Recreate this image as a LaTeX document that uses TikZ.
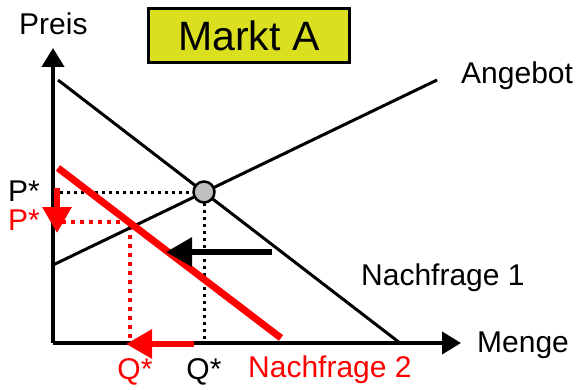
\documentclass[tikz,border=0pt]{standalone}
\usepackage{fontspec}
\setmainfont{Liberation Sans}
\usetikzlibrary{arrows.meta}
\definecolor{boxyellow}{RGB}{218,223,31}
\definecolor{myred}{RGB}{255,0,0}
\begin{document}
\begin{tikzpicture}[x=1pt,y=-1pt,
  lbl/.style={font=\fontsize{30}{30}\selectfont, inner sep=0pt},
  curve/.style={line width=3pt, black},
  axis/.style={line width=4pt, -{Triangle[length=19pt,width=22pt]}},
  dotline/.style={line width=3pt, dash pattern=on 3pt off 4pt},
  bigarrow/.style={line width=6pt, -{Triangle[length=26pt,width=28pt]}}]
\useasboundingbox (0,0) rectangle (585,390);
% coordinates
\coordinate (O) at (53,343);
\coordinate (ytop) at (53,48);
\coordinate (xend) at (461,343);
\coordinate (s1) at (53,265);
\coordinate (s2) at (437,80);
\coordinate (d1a) at (58,80);
\coordinate (d1b) at (400,343);
\coordinate (d2a) at (58,168);
\coordinate (d2b) at (281,338);
\coordinate (pst) at (60,192);
\coordinate (qst) at (204,343);
\coordinate (rp) at (62,222);
\coordinate (rq) at (130,343);
\coordinate (rx) at (130,222);
% axes
\draw[axis] (O) -- (ytop);
\draw[axis] (O) -- (xend);
% dotted guides
\draw[dotline] (pst) -- (194,192);
\draw[dotline] (204,203) -- (qst);
\draw[dotline, myred, line width=4pt, dash pattern=on 4pt off 5pt] (rp) -- (rx) -- (rq);
% curves
\draw[curve] (s1) -- (s2);
\draw[curve] (d1a) -- (d1b);
\draw[line width=7pt, myred] (d2a) -- (d2b);
% equilibrium
\node[circle, draw=black, line width=2.5pt, fill=black!25, minimum size=21pt, inner sep=0pt] (eq) at (204,192) {};
% shift arrows
\coordinate (bs) at (272,252);
\coordinate (be) at (166,252);
\draw[bigarrow, black] (bs) -- (be);
\coordinate (ds) at (57,188);
\coordinate (de) at (57,233);
\draw[bigarrow, myred] (ds) -- (de);
\coordinate (ls) at (194,344);
\coordinate (le) at (126,344);
\draw[bigarrow, myred] (ls) -- (le);
% title
\node[draw=black, line width=2.5pt, fill=boxyellow, minimum width=201pt, minimum height=54pt, inner sep=0pt, font=\fontsize{41}{41}\selectfont] (title) at (249,35.5) {Markt A};
% labels
\node[lbl, anchor=west] (preis) at (19,24) {Preis};
\node[lbl, anchor=west] (ang) at (461,76) {Angebot};
\node[lbl, anchor=west] (nf1) at (361,278) {Nachfrage 1};
\node[lbl, anchor=west] (menge) at (477,345) {Menge};
\node[lbl, anchor=west, text=myred] (nf2) at (248,370) {Nachfrage 2};
\node[lbl] (q1) at (204,372) {Q*};
\node[lbl, text=myred] (q2) at (135,372) {Q*};
\node[lbl] (p1) at (24,191) {P*};
\node[lbl, text=myred] (p2) at (24,220) {P*};
\end{tikzpicture}
\end{document}
